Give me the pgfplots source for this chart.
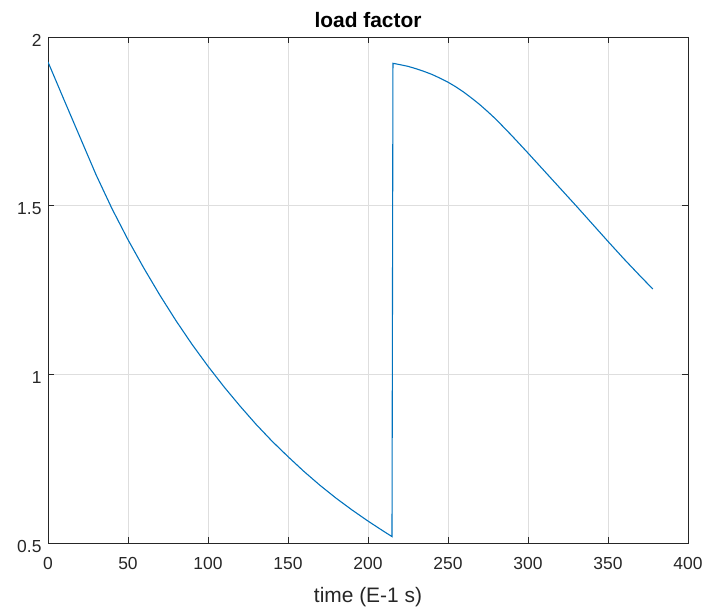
\documentclass[border=0pt]{standalone}
\usepackage{fontspec}
\setmainfont{Liberation Sans}
\usepackage{pgfplots}
\pgfplotsset{compat=1.18}
\usetikzlibrary{calc}
\definecolor{mblue}{rgb}{0,0.447,0.741}
\definecolor{maxis}{gray}{0.15}
\definecolor{mgrid}{gray}{0.87}
\begin{document}
\begin{tikzpicture}
\begin{axis}[
  name=ax,
  scale only axis,
  width=640bp, height=506bp,
  xmin=0, xmax=400, ymin=0.5, ymax=2,
  xtick={0,50,...,400},
  ytick={0.5,1,1.5,2},
  yticklabels={0.5,1,1.5,2},
  grid=major,
  major grid style={mgrid, line width=0.6pt},
  axis line style={maxis, line width=0.8pt},
  tick style={maxis, line width=0.8pt},
  tick align=inside,
  major tick length=6bp,
  xtick pos=both, ytick pos=both,
  tick label style={font=\fontsize{17.5}{20}\selectfont, text=maxis},
  xticklabel style={yshift=-11bp},
  yticklabel style={xshift=-3bp, yshift=-3bp},
  /pgf/number format/assume math mode=true,
  xlabel={time (E-1 s)},
  xlabel style={font=\fontsize{21}{24}\selectfont, text=maxis, yshift=-11bp},
  title={load factor},
  title style={font=\bfseries\fontsize{21}{24}\selectfont, yshift=0bp},
  every axis plot/.append style={line width=1.1pt},
]
\addplot[mblue, no marks] coordinates {
(0,1.926) (10,1.814) (20,1.703) (30,1.592) (40,1.491) (50,1.399) (60,1.314)
(70,1.234) (80,1.159) (90,1.089) (100,1.024) (110,0.963) (120,0.906)
(130,0.852) (140,0.802) (150,0.756) (160,0.712) (170,0.671) (180,0.633)
(190,0.598) (200,0.565) (210,0.534) (215,0.519)
(215.6,1.922) (220,1.918) (225,1.913) (230,1.906) (235,1.898) (240,1.889)
(245,1.878) (250,1.866) (255,1.852) (260,1.836) (265,1.818) (270,1.799)
(275,1.778) (280,1.756) (290,1.707) (300,1.656) (310,1.604) (320,1.552)
(330,1.500) (340,1.447) (350,1.394) (360,1.342) (370,1.292) (378,1.253)
};
\end{axis}
\pgfresetboundingbox
\path ($(ax.south west)+(-48bp,-67bp)$) rectangle ($(ax.north east)+(17bp,37bp)$);
\end{tikzpicture}
\end{document}
